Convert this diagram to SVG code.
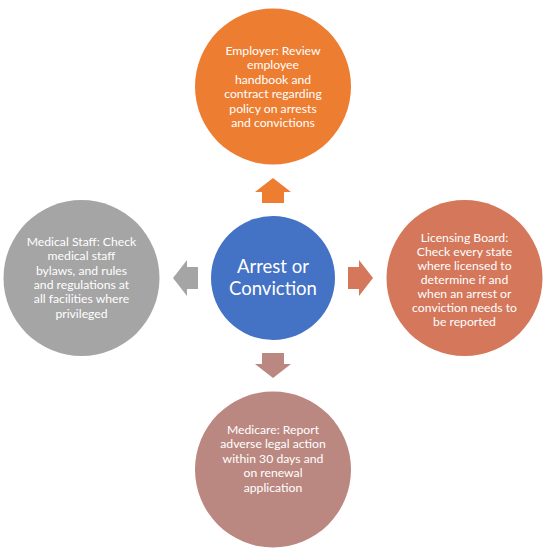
<svg xmlns="http://www.w3.org/2000/svg" width="550" height="553" viewBox="0 0 550 553">
  <style>
    .t { font-family: Lato, "Open Sans", "Liberation Sans", sans-serif; font-size: 12.2px; fill: #ffffff; text-anchor: middle; }
    .c { font-family: Lato, "Open Sans", "Liberation Sans", sans-serif; font-size: 18.5px; fill: #ffffff; text-anchor: middle; }
  </style>
  <defs>
    <path id="arr" d="M0,-100 L18,-86 L11,-86 L11,-75 L-11,-75 L-11,-86 L-18,-86 Z"/>
  </defs>
  <rect width="550" height="553" fill="#ffffff"/>
  <g id="connectors">
    <use href="#arr" transform="translate(273,278)" fill="#ED7D31"/>
    <use href="#arr" transform="translate(273,278) rotate(90)" fill="#D5775A"/>
    <use href="#arr" transform="translate(273,278) rotate(180)" fill="#BB8881"/>
    <use href="#arr" transform="translate(273,278) rotate(270)" fill="#A5A5A5"/>
  </g>
  <g id="center">
    <circle cx="273" cy="278" r="62" fill="#4472C4"/>
    <text class="c" x="273" y="273">Arrest or</text>
    <text class="c" x="273" y="295">Conviction</text>
  </g>
  <g id="employer">
    <circle cx="273" cy="86.5" r="78" fill="#ED7D31"/>
    <text class="t" x="273" y="54.5">Employer: Review</text>
    <text class="t" x="273" y="69">employee</text>
    <text class="t" x="273" y="83.5">handbook and</text>
    <text class="t" x="273" y="98">contract regarding</text>
    <text class="t" x="273" y="112.5">policy on arrests</text>
    <text class="t" x="273" y="127">and convictions</text>
  </g>
  <g id="licensing">
    <circle cx="464.5" cy="278" r="78" fill="#D5775A"/>
    <text class="t" x="464.5" y="241.5">Licensing Board:</text>
    <text class="t" x="464.5" y="255.5">Check every state</text>
    <text class="t" x="464.5" y="269.5">where licensed to</text>
    <text class="t" x="464.5" y="283.5">determine if and</text>
    <text class="t" x="464.5" y="297.5">when an arrest or</text>
    <text class="t" x="464.5" y="311.5">conviction needs to</text>
    <text class="t" x="464.5" y="325.5">be reported</text>
  </g>
  <g id="medicare">
    <circle cx="273" cy="469.5" r="78" fill="#BB8881"/>
    <text class="t" x="273" y="434">Medicare: Report</text>
    <text class="t" x="273" y="448.4">adverse legal action</text>
    <text class="t" x="273" y="462.8">within 30 days and</text>
    <text class="t" x="273" y="477.2">on renewal</text>
    <text class="t" x="273" y="491.6">application</text>
  </g>
  <g id="medical-staff">
    <circle cx="81.5" cy="278" r="78" fill="#A5A5A5"/>
    <text class="t" x="81.5" y="246">Medical Staff: Check</text>
    <text class="t" x="81.5" y="260.3">medical staff</text>
    <text class="t" x="81.5" y="274.6">bylaws, and rules</text>
    <text class="t" x="81.5" y="288.9">and regulations at</text>
    <text class="t" x="81.5" y="303.2">all facilities where</text>
    <text class="t" x="81.5" y="317.5">privileged</text>
  </g>
</svg>
